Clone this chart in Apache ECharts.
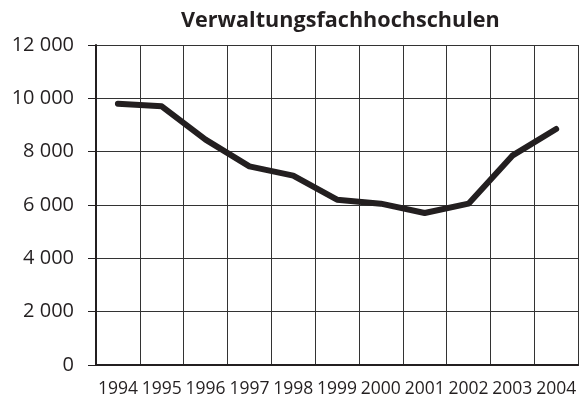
<!DOCTYPE html>
<html>
<head>
<meta charset="utf-8">
<script src="https://cdn.jsdelivr.net/npm/echarts@6/dist/echarts.min.js"></script>
<style>
  html, body { margin: 0; padding: 0; background: #fff; }
  #chart { width: 579px; height: 401px; }
</style>
</head>
<body>
<div id="chart"></div>
<script>
const years = ['1994', '1995', '1996', '1997', '1998', '1999', '2000', '2001', '2002', '2003', '2004']
const students = [9800, 9700, 8450, 7450, 7100, 6200, 6050, 5700, 6050, 7850, 8850]
const chartTitle = 'Verwaltungsfachhochschulen'

const ink = '#231f20'
const gridColor = '#333333'
const font = 'Open Sans'

// 12000 -> "12 000"
const groupThousands = v => String(v).replace(/\B(?=(\d{3})+(?!\d))/g, ' ')

const chart = echarts.init(document.getElementById('chart'))

const option = {
  animation: false,
  title: {
    text: chartTitle,
    left: 181,
    top: 10,
    padding: 0,
    textStyle: {
      fontFamily: font,
      fontWeight: 'bold',
      fontSize: 21.6,
      color: ink
    }
  },
  grid: {
    left: 96,
    top: 45,
    width: 486,
    height: 320
  },
  xAxis: {
    type: 'category',
    data: years,
    boundaryGap: true,
    axisLine: { show: true, lineStyle: { color: ink, width: 2 } },
    axisTick: { show: false },
    axisLabel: {
      interval: 0,
      margin: 15,
      fontFamily: font,
      fontSize: 17.5,
      color: ink
    },
    splitLine: {
      show: true,
      interval: 0,
      lineStyle: { color: gridColor, width: 1 }
    }
  },
  yAxis: {
    type: 'value',
    min: 0,
    max: 12000,
    interval: 2000,
    axisLine: { show: true, lineStyle: { color: ink, width: 2 } },
    axisTick: { show: true, length: 8, lineStyle: { color: ink, width: 1 } },
    axisLabel: {
      margin: 22,
      fontFamily: font,
      fontSize: 20,
      color: ink,
      formatter: groupThousands
    },
    splitLine: {
      show: true,
      lineStyle: { color: gridColor, width: 1 }
    }
  },
  series: [
    {
      type: 'line',
      data: students,
      symbol: 'none',
      lineStyle: {
        color: ink,
        width: 6,
        cap: 'round',
        join: 'round'
      }
    }
  ]
}

chart.setOption(option)
</script>
</body>
</html>
